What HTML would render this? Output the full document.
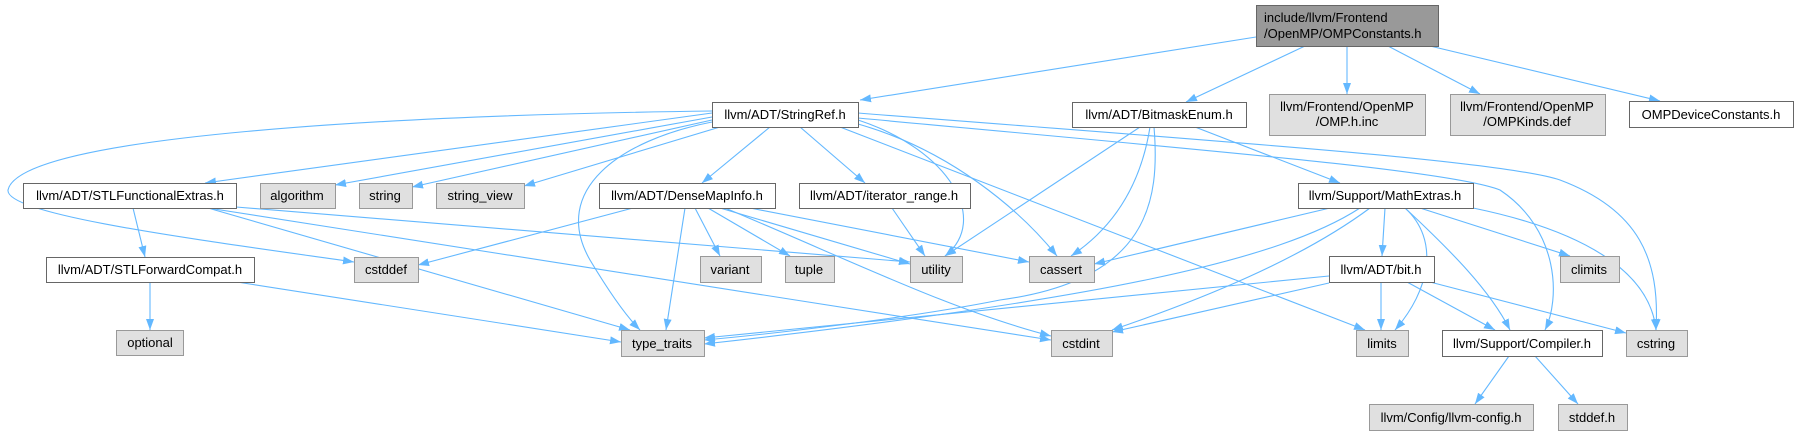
<!DOCTYPE html>
<html><head><meta charset="utf-8"><style>
html,body{margin:0;padding:0;background:#fff;width:1798px;height:435px;overflow:hidden}
svg{display:block}
text{font-family:"Liberation Sans",Arial,sans-serif;font-size:13px;fill:#000}
</style></head><body>
<svg width="1798" height="435" viewBox="0 0 1798 435" xmlns="http://www.w3.org/2000/svg">
<defs><marker id="a" markerUnits="userSpaceOnUse" markerWidth="12" markerHeight="10" refX="11" refY="4" orient="auto"><path d="M0,0 L11,4 L0,8 z" fill="#63b8ff"/></marker></defs>
<g fill="none" stroke="#63b8ff" stroke-width="1.1" marker-end="url(#a)">
<path d="M1256,37 L860,100"/>
<path d="M1305,46 L1186,102"/>
<path d="M1347,46 L1347,94"/>
<path d="M1388,46 L1480,94"/>
<path d="M1430,46 L1660,101"/>
<path d="M712,113 L205,183"/>
<path d="M712,117 L335,185"/>
<path d="M712,120 L412,187"/>
<path d="M720,127 L524,186"/>
<path d="M712,111 C400,115 20,135 8,190 C5,215 200,240 354,262"/>
<path d="M770,127 L702,183"/>
<path d="M800,127 L865,183"/>
<path d="M712,122 C620,140 550,190 590,260 Q620,310 640,330"/>
<path d="M858,120 C950,150 990,220 945,256"/>
<path d="M858,124 C950,150 1020,210 1057,256"/>
<path d="M840,127 L1365,330"/>
<path d="M858,113 C1200,140 1500,160 1560,180 C1640,210 1660,260 1656,330"/>
<path d="M858,118 C1200,150 1450,170 1500,190 C1560,230 1560,300 1545,330"/>
<path d="M1140,127 L945,256"/>
<path d="M1150,127 C1140,190 1110,230 1071,256"/>
<path d="M1154,127 C1160,200 1150,280 1000,300 C900,320 750,336 704,340"/>
<path d="M1195,127 L1340,183"/>
<path d="M633,208 L418,265"/>
<path d="M685,208 L666,330"/>
<path d="M695,208 L720,256"/>
<path d="M708,208 L790,256"/>
<path d="M720,208 L910,264"/>
<path d="M750,208 L1029,262"/>
<path d="M725,208 C850,260 950,310 1051,336"/>
<path d="M892,208 L925,256"/>
<path d="M133,208 L145,257"/>
<path d="M208,208 L630,330"/>
<path d="M208,208 L1051,340"/>
<path d="M236,207 L910,262"/>
<path d="M150,282 L150,330"/>
<path d="M237,282 L621,342"/>
<path d="M1330,208 L1094,264"/>
<path d="M1360,208 C1280,260 1100,300 704,344"/>
<path d="M1370,208 C1300,260 1200,300 1112,330"/>
<path d="M1385,208 L1382,256"/>
<path d="M1405,208 C1440,240 1430,290 1395,330"/>
<path d="M1405,208 C1450,250 1490,290 1510,330"/>
<path d="M1420,208 L1570,256"/>
<path d="M1473,208 C1580,230 1650,270 1656,330"/>
<path d="M1329,276 L704,338"/>
<path d="M1329,283 L1112,332"/>
<path d="M1381,282 L1381,330"/>
<path d="M1407,282 L1495,330"/>
<path d="M1430,282 L1626,333"/>
<path d="M1509,356 L1475,404"/>
<path d="M1535,356 L1578,404"/>
</g>
<g stroke-width="1">
<rect x="1256.5" y="5.5" width="182" height="41" fill="#999" stroke="#666"/>
<g fill="#fff" stroke="#666">
<rect x="712.5" y="102.5" width="146" height="25"/>
<rect x="1072.5" y="102.5" width="174" height="25"/>
<rect x="1629.5" y="101.5" width="164" height="26"/>
<rect x="23.5" y="183.5" width="213" height="25"/>
<rect x="599.5" y="183.5" width="176" height="25"/>
<rect x="799.5" y="183.5" width="171" height="25"/>
<rect x="1298.5" y="183.5" width="175" height="25"/>
<rect x="46.5" y="257.5" width="208" height="25"/>
<rect x="1329.5" y="256.5" width="105" height="26"/>
<rect x="1442.5" y="330.5" width="160" height="26"/>
</g>
<g fill="#e0e0e0" stroke="#999">
<rect x="1269.5" y="94.5" width="156" height="41"/>
<rect x="1450.5" y="94.5" width="155" height="41"/>
<rect x="260.5" y="183.5" width="75" height="25"/>
<rect x="359.5" y="183.5" width="53" height="25"/>
<rect x="436.5" y="183.5" width="88" height="25"/>
<rect x="354.5" y="257.5" width="64" height="25"/>
<rect x="700.5" y="256.5" width="61" height="26"/>
<rect x="785.5" y="256.5" width="49" height="26"/>
<rect x="910.5" y="256.5" width="52" height="26"/>
<rect x="1029.5" y="256.5" width="65" height="26"/>
<rect x="1560.5" y="256.5" width="59" height="26"/>
<rect x="116.5" y="330.5" width="67" height="25"/>
<rect x="621.5" y="330.5" width="83" height="26"/>
<rect x="1051.5" y="330.5" width="61" height="26"/>
<rect x="1356.5" y="330.5" width="52" height="26"/>
<rect x="1626.5" y="330.5" width="61" height="26"/>
<rect x="1369.5" y="404.5" width="164" height="26"/>
<rect x="1558.5" y="404.5" width="69" height="26"/>
</g>
</g>
<g>
<text x="1264" y="22">include/llvm/Frontend</text>
<text x="1264" y="38">/OpenMP/OMPConstants.h</text>
</g>
<g text-anchor="middle">
<text x="785" y="119">llvm/ADT/StringRef.h</text>
<text x="1159" y="119">llvm/ADT/BitmaskEnum.h</text>
<text x="1347" y="111">llvm/Frontend/OpenMP</text>
<text x="1347" y="126">/OMP.h.inc</text>
<text x="1527" y="111">llvm/Frontend/OpenMP</text>
<text x="1527" y="126">/OMPKinds.def</text>
<text x="1711" y="119">OMPDeviceConstants.h</text>
<text x="130" y="200">llvm/ADT/STLFunctionalExtras.h</text>
<text x="297" y="200">algorithm</text>
<text x="385" y="200">string</text>
<text x="480" y="200">string_view</text>
<text x="687" y="200">llvm/ADT/DenseMapInfo.h</text>
<text x="884" y="200">llvm/ADT/iterator_range.h</text>
<text x="1385" y="200">llvm/Support/MathExtras.h</text>
<text x="150" y="274">llvm/ADT/STLForwardCompat.h</text>
<text x="386" y="274">cstddef</text>
<text x="730" y="274">variant</text>
<text x="809" y="274">tuple</text>
<text x="936" y="274">utility</text>
<text x="1061" y="274">cassert</text>
<text x="1381" y="274">llvm/ADT/bit.h</text>
<text x="1589" y="274">climits</text>
<text x="150" y="347">optional</text>
<text x="662" y="348">type_traits</text>
<text x="1081" y="348">cstdint</text>
<text x="1382" y="348">limits</text>
<text x="1522" y="348">llvm/Support/Compiler.h</text>
<text x="1656" y="348">cstring</text>
<text x="1451" y="422">llvm/Config/llvm-config.h</text>
<text x="1592" y="422">stddef.h</text>
</g>
</svg>
</body></html>
